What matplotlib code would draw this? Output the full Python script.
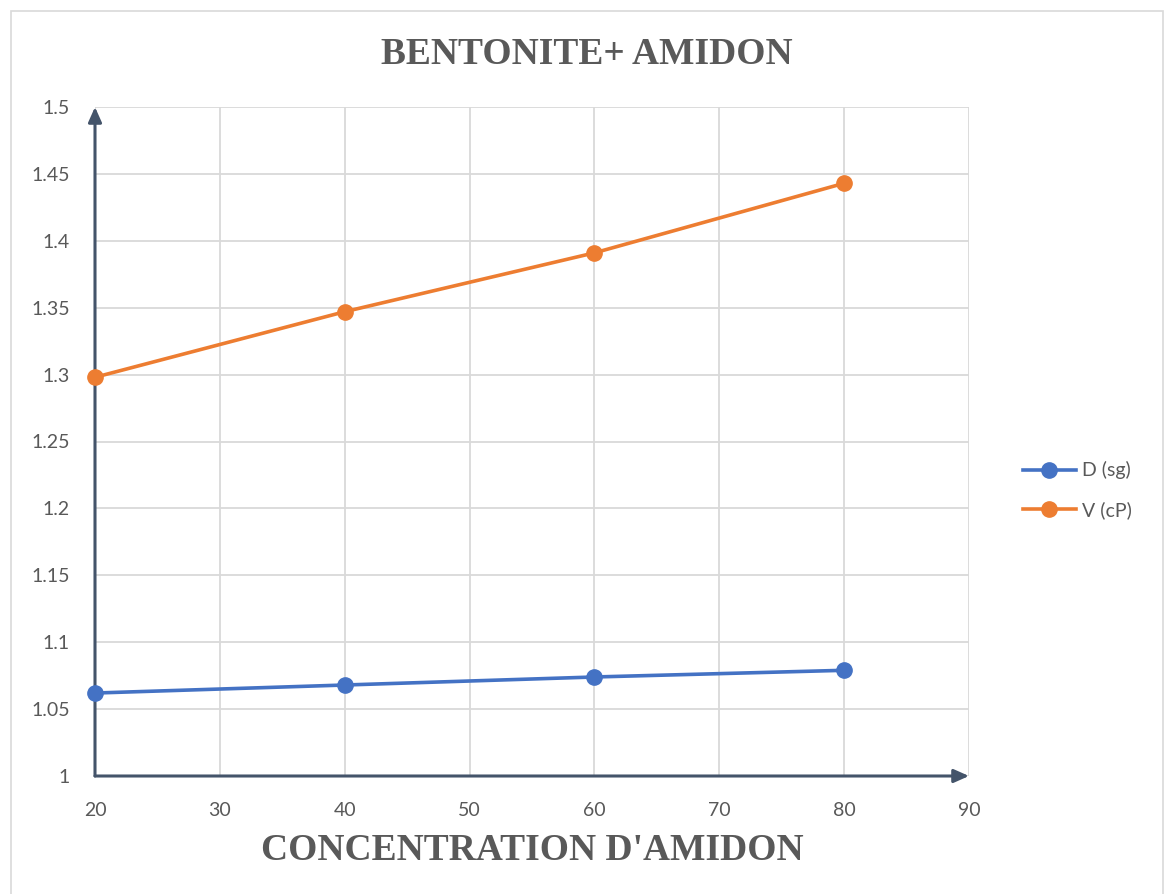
import matplotlib
matplotlib.use("Agg")
import matplotlib.pyplot as plt
from matplotlib.patches import Rectangle

# Data
concentration = [20, 40, 60, 80]
density_sg = [1.062, 1.068, 1.074, 1.079]
viscosity_cp = [1.298, 1.347, 1.391, 1.443]
series_labels = ["D (sg)", "V (cP)"]
x_ticks = [20, 30, 40, 50, 60, 70, 80, 90]
y_ticks = [1, 1.05, 1.1, 1.15, 1.2, 1.25, 1.3, 1.35, 1.4, 1.45, 1.5]
y_tick_labels = ["1", "1.05", "1.1", "1.15", "1.2", "1.25", "1.3", "1.35", "1.4", "1.45", "1.5"]

W, H = 1170, 894
fig = plt.figure(figsize=(W / 100, H / 100), dpi=100)
fig.patch.set_facecolor("white")

# outer chart border
fig.patches.append(Rectangle((11 / W, -10 / H), 1152 / W, 893 / H, transform=fig.transFigure,
                             fill=False, edgecolor="#D9D9D9", linewidth=1.2))

ax = fig.add_axes([95 / W, 118 / H, 874 / W, 669 / H])
ax.set_xlim(20, 90)
ax.set_ylim(1, 1.5)

tick_font = dict(family=["Lato", "DejaVu Sans"], size=14, color="#595959")
ax.set_xticks(x_ticks)
ax.set_xticklabels([str(t) for t in x_ticks], **tick_font)
ax.set_yticks(y_ticks)
ax.set_yticklabels(y_tick_labels, **tick_font)
ax.tick_params(axis="both", length=0)
ax.tick_params(axis="x", pad=19)
ax.tick_params(axis="y", pad=18)

ax.grid(True, color="#D9D9D9", linewidth=1.3)
ax.set_axisbelow(True)
for side in ["left", "bottom", "top", "right"]:
    ax.spines[side].set_visible(False)

# axis lines with arrowheads
axis_color = "#44546A"
ax.annotate("", xy=(0, 1.0), xytext=(0, 0), xycoords="axes fraction",
            arrowprops=dict(arrowstyle="-|>,head_length=0.9,head_width=0.4",
                            color=axis_color, lw=2.2, shrinkA=0, shrinkB=0))
ax.annotate("", xy=(1.0, 0), xytext=(0, 0), xycoords="axes fraction",
            arrowprops=dict(arrowstyle="-|>,head_length=0.9,head_width=0.4",
                            color=axis_color, lw=2.2, shrinkA=0, shrinkB=0))

ax.plot(concentration, density_sg, color="#4472C4", linewidth=2.6, marker="o",
        markersize=11, label=series_labels[0], clip_on=False, zorder=5)
ax.plot(concentration, viscosity_cp, color="#ED7D31", linewidth=2.6, marker="o",
        markersize=11, label=series_labels[1], clip_on=False, zorder=5)

leg = ax.legend(loc="center left", bbox_to_anchor=(1.062, 0.4275), frameon=False,
                prop=dict(family=["Lato", "DejaVu Sans"], size=14),
                handlelength=2.7, handletextpad=0.3, labelspacing=1.1,
                borderaxespad=0, borderpad=0)
for t in leg.get_texts():
    t.set_color("#595959")

fig.text(587 / W, 1 - 54 / H, "BENTONITE+ AMIDON", ha="center", va="center",
         family=["Liberation Serif", "DejaVu Serif"], weight="bold", size=27,
         color="#595959")
fig.text(532 / W, 1 - 851 / H, "CONCENTRATION D'AMIDON", ha="center", va="center",
         family=["Liberation Serif", "DejaVu Serif"], weight="bold", size=27,
         color="#595959")

fig.savefig("out.png", dpi=100, facecolor="white")
